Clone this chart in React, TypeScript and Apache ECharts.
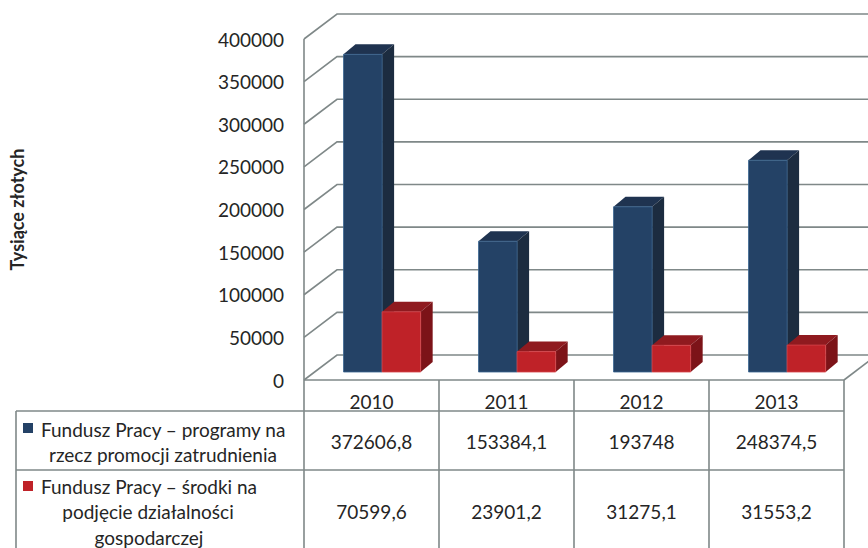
import { useEffect, useRef } from "react";
import * as echarts from "echarts";

const years = ["2010", "2011", "2012", "2013"];
const programy = [372606.8, 153384.1, 193748, 248374.5];
const srodki = [70599.6, 23901.2, 31275.1, 31553.2];
const programyLabels = ["372606,8", "153384,1", "193748", "248374,5"];
const srodkiLabels = ["70599,6", "23901,2", "31275,1", "31553,2"];
const yTicks = [0, 50000, 100000, 150000, 200000, 250000, 300000, 350000, 400000];
const yTitle = "Tysiące złotych";
const legend1 = ["Fundusz Pracy – programy na", "rzecz promocji zatrudnienia"];
const legend2 = ["Fundusz Pracy – środki na", "podjęcie działalności", "gospodarczej"];

const FONT = "Lato";
const FS = 19;
const TXT = "#252525";
const LINE = "#7f8888";
const BLUE = { front: "#244266", side: "#1c2c40", top: "#1f3350", stroke: "#3a6690" };
const RED = { front: "#bf2228", side: "#7c1318", top: "#8f1a1f", stroke: "#d6454a" };

// oblique depth vectors (pixels)
const WALL_DX = 33, WALL_DY = -25;
const FRONT_DX = 10.6, FRONT_DY = -8;
const BAR_DX = 12, BAR_DY = -10;
const BAR_FRAC = 0.2857;

const G_LEFT = 298, G_TOP = 39, G_W = 546, G_H = 341;
const ROW1 = 31, ROW2 = 90, TABLE_BOTTOM = 600, TABLE_LEFT = 16;

export default function App() {
  const ref = useRef<HTMLDivElement>(null);
  useEffect(() => {
    document.body.style.margin = "0";
    const chart = echarts.init(ref.current!, undefined, { renderer: "svg" });

    const barRender = (idx: number, c: typeof BLUE) => (params: any, api: any) => {
      const i = api.value(0);
      const v = api.value(1);
      const base = api.coord([i, 0]);
      const topP = api.coord([i, v]);
      const band = api.size([1, 0])[0];
      const w = band * BAR_FRAC;
      const x0 = base[0] + FRONT_DX + (idx === 0 ? -w : 0);
      const x1 = x0 + w;
      const yb = base[1] + FRONT_DY;
      const yt = topP[1] + FRONT_DY;
      return {
        type: "group",
        children: [
          { type: "polygon", shape: { points: [[x0, yt], [x1, yt], [x1 + BAR_DX, yt + BAR_DY], [x0 + BAR_DX, yt + BAR_DY]] }, style: { fill: c.top } },
          { type: "polygon", shape: { points: [[x1, yb], [x1, yt], [x1 + BAR_DX, yt + BAR_DY], [x1 + BAR_DX, yb + BAR_DY]] }, style: { fill: c.side } },
          { type: "rect", shape: { x: x0, y: yt, width: w, height: yb - yt }, style: { fill: c.front, stroke: c.stroke, lineWidth: 0.8 } },
        ],
      };
    };

    const wallRender = (params: any, api: any) => {
      const v = api.value(1);
      const band = api.size([1, 0])[0];
      const xl = api.coord([0, v])[0] - band / 2;
      const xr = api.coord([years.length - 1, v])[0] + band / 2;
      const y = api.coord([0, v])[1];
      const ls = { stroke: LINE, lineWidth: 1.6, fill: "none" };
      const children: any[] = [
        { type: "polyline", shape: { points: [[xl, y], [xl + WALL_DX, y + WALL_DY], [xr + WALL_DX + 40, y + WALL_DY]] }, style: ls },
      ];
      if (v === 0) {
        children.push({ type: "line", shape: { x1: xl, y1: y, x2: xr, y2: y }, style: ls });
        children.push({ type: "line", shape: { x1: xr, y1: y, x2: xr + WALL_DX, y2: y + WALL_DY }, style: ls });
      }
      if (v === yTicks[yTicks.length - 1]) {
        const y0 = api.coord([0, 0])[1];
        children.push({ type: "line", shape: { x1: xl, y1: y, x2: xl, y2: y0 + TABLE_BOTTOM }, style: ls });
      }
      return { type: "group", children };
    };

    const tableRender = (params: any, api: any) => {
      const i = api.value(0);
      const c = api.coord([i, 0]);
      const band = api.size([1, 0])[0];
      const xl = c[0] - band / 2;
      const xr = c[0] + band / 2;
      const y0 = c[1];
      const ls = { stroke: LINE, lineWidth: 1.6, fill: "none" };
      const ts = { fontFamily: FONT, fontSize: FS, fill: TXT, align: "center", verticalAlign: "middle" };
      const children: any[] = [
        { type: "line", shape: { x1: xr, y1: y0, x2: xr, y2: y0 + TABLE_BOTTOM }, style: ls },
        { type: "line", shape: { x1: xl, y1: y0 + ROW1, x2: xr, y2: y0 + ROW1 }, style: ls },
        { type: "line", shape: { x1: xl, y1: y0 + ROW2, x2: xr, y2: y0 + ROW2 }, style: ls },
        { type: "text", style: { ...ts, text: programyLabels[i], x: c[0], y: y0 + 61 } },
        { type: "text", style: { ...ts, text: srodkiLabels[i], x: c[0], y: y0 + 131 } },
      ];
      if (i === 0) {
        children.push({ type: "line", shape: { x1: TABLE_LEFT, y1: y0 + ROW1, x2: xl, y2: y0 + ROW1 }, style: ls });
        children.push({ type: "line", shape: { x1: TABLE_LEFT, y1: y0 + ROW2, x2: xl, y2: y0 + ROW2 }, style: ls });
        children.push({ type: "line", shape: { x1: TABLE_LEFT, y1: y0 + ROW1, x2: TABLE_LEFT, y2: y0 + TABLE_BOTTOM }, style: ls });
        children.push({ type: "rect", shape: { x: 23, y: y0 + 43, width: 10, height: 10 }, style: { fill: BLUE.front } });
        children.push({ type: "rect", shape: { x: 23, y: y0 + 101, width: 10, height: 10 }, style: { fill: RED.front } });
        children.push({ type: "text", style: { ...ts, align: "left", text: legend1[0], x: 41, y: y0 + 49 } });
        children.push({ type: "text", style: { ...ts, text: legend1[1], x: 163, y: y0 + 74 } });
        children.push({ type: "text", style: { ...ts, align: "left", text: legend2[0], x: 41, y: y0 + 106 } });
        children.push({ type: "text", style: { ...ts, text: legend2[1], x: 148, y: y0 + 131 } });
        children.push({ type: "text", style: { ...ts, text: legend2[2], x: 149, y: y0 + 157 } });
      }
      return { type: "group", children };
    };

    chart.setOption({
      animation: false,
      backgroundColor: "#ffffff",
      grid: { left: G_LEFT, top: G_TOP, width: G_W, height: G_H, containLabel: false },
      xAxis: {
        type: "category",
        data: years,
        axisLine: { show: false },
        axisTick: { show: false },
        splitLine: { show: false },
        axisLabel: { margin: 12, fontFamily: FONT, fontSize: FS, color: TXT },
      },
      yAxis: {
        type: "value",
        min: 0,
        max: 400000,
        interval: 50000,
        axisLine: { show: false },
        axisTick: { show: false },
        splitLine: { show: false },
        axisLabel: { margin: 20, fontFamily: FONT, fontSize: FS, color: TXT, formatter: (v: number) => String(v) },
        name: yTitle,
        nameLocation: "middle",
        nameRotate: 90,
        nameGap: 278,
        nameTextStyle: { fontFamily: FONT, fontSize: 18, fontWeight: "bold", color: TXT },
      },
      series: [
        { type: "custom", name: "walls", renderItem: wallRender, data: yTicks.map((v) => [0, v]), z: 1, silent: true },
        { type: "custom", name: "table", renderItem: tableRender, data: years.map((_, i) => [i, 0]), z: 1, silent: true },
        { type: "custom", name: legend1.join(" "), renderItem: barRender(0, BLUE), data: programy.map((v, i) => [i, v]), z: 2 },
        { type: "custom", name: legend2.join(" "), renderItem: barRender(1, RED), data: srodki.map((v, i) => [i, v]), z: 3 },
      ],
    });
    return () => chart.dispose();
  }, []);
  return <div ref={ref} style={{ width: 868, height: 548, position: "fixed", left: 0, top: 0 }} />;
}
